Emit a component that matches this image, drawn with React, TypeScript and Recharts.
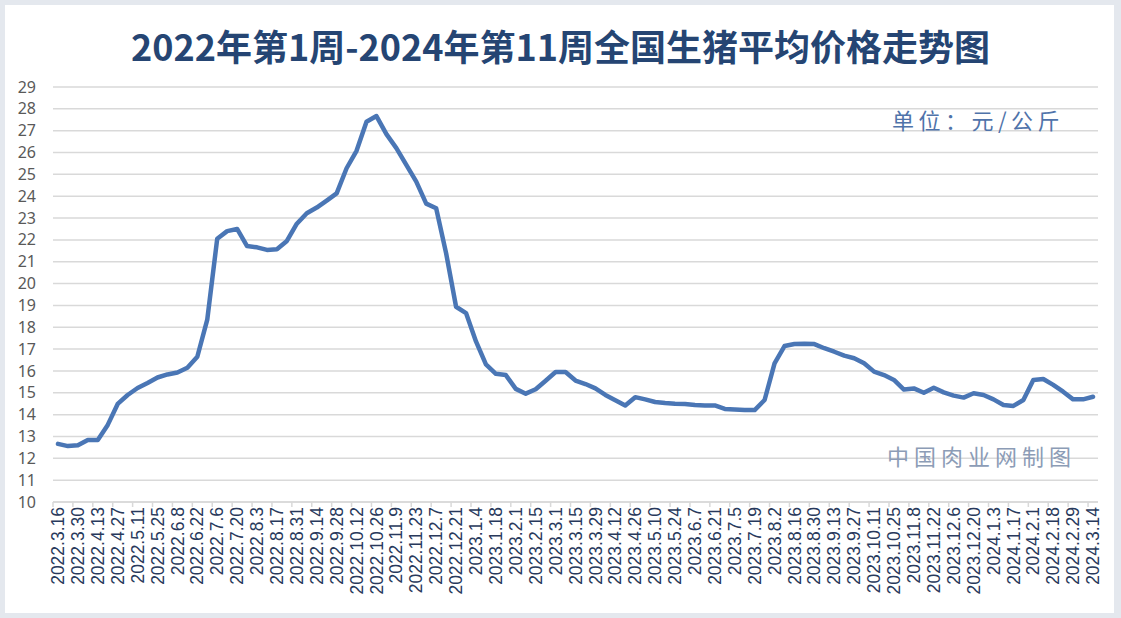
import { CartesianGrid, Line, LineChart, XAxis, YAxis } from "recharts";

// labels shown under every second week
const WEEK_LABELS = [
  "2022.3.16", "2022.3.30", "2022.4.13", "2022.4.27", "2022.5.11", "2022.5.25", "2022.6.8",
  "2022.6.22", "2022.7.6", "2022.7.20", "2022.8.3", "2022.8.17", "2022.8.31", "2022.9.14",
  "2022.9.28", "2022.10.12", "2022.10.26", "2022.11.9", "2022.11.23", "2022.12.7", "2022.12.21",
  "2023.1.4", "2023.1.18", "2023.2.1", "2023.2.15", "2023.3.1", "2023.3.15", "2023.3.29",
  "2023.4.12", "2023.4.26", "2023.5.10", "2023.5.24", "2023.6.7", "2023.6.21", "2023.7.5",
  "2023.7.19", "2023.8.2", "2023.8.16", "2023.8.30", "2023.9.13", "2023.9.27", "2023.10.11",
  "2023.10.25", "2023.11.8", "2023.11.22", "2023.12.6", "2023.12.20", "2024.1.3", "2024.1.17",
  "2024.2.1", "2024.2.18", "2024.2.29", "2024.3.14",
];

// weekly national live hog price, yuan/kg
const PRICES = [
  12.66, 12.56, 12.6, 12.84, 12.84, 13.53, 14.49, 14.9, 15.22, 15.45,
  15.7, 15.84, 15.93, 16.15, 16.65, 18.35, 22.05, 22.4, 22.5, 21.72,
  21.66, 21.54, 21.57, 21.95, 22.74, 23.22, 23.48, 23.8, 24.13, 25.28,
  26.08, 27.41, 27.67, 26.84, 26.2, 25.43, 24.67, 23.66, 23.45, 21.39,
  18.94, 18.65, 17.35, 16.3, 15.87, 15.81, 15.18, 14.96, 15.16, 15.55,
  15.95, 15.95, 15.56, 15.4, 15.2, 14.9, 14.66, 14.42, 14.8, 14.7,
  14.58, 14.53, 14.5, 14.49, 14.44, 14.42, 14.42, 14.26, 14.23, 14.21,
  14.21, 14.67, 16.35, 17.14, 17.23, 17.25, 17.23, 17.04, 16.88, 16.7,
  16.58, 16.35, 15.97, 15.81, 15.59, 15.15, 15.2, 15.0, 15.23, 15.02,
  14.87, 14.78, 14.98, 14.9, 14.7, 14.44, 14.4, 14.67, 15.59, 15.63,
  15.36, 15.05, 14.7, 14.7, 14.82,
];

const Y_TICKS = [10, 11, 12, 13, 14, 15, 16, 17, 18, 19, 20, 21, 22, 23, 24, 25, 26, 27, 28, 29];

const data = PRICES.map((price, i) => ({ i, price }));

const W = 1121;
const H = 618;
const PLOT_LEFT = 53;
const PLOT_RIGHT = 1098;
const BAND = (PLOT_RIGHT - PLOT_LEFT) / PRICES.length;

function XTick(props: any) {
  const { x, y, payload } = props;
  const idx = payload.value as number;
  const label = WEEK_LABELS[idx / 2] ?? "";
  return (
    <g>
      <line x1={x - BAND / 2} x2={x - BAND / 2} y1={y} y2={y + 5} stroke="#D9D9D9" strokeWidth={1.5} />
      <text
        x={x}
        y={y + 5}
        dy="0.35em"
        transform={`rotate(-90 ${x} ${y + 5})`}
        textAnchor="end"
        fontFamily="'Liberation Sans', Arial, sans-serif"
        fontSize={17.5}
        fill="#28395C"
      >
        {label}
      </text>
    </g>
  );
}

function YTick(props: any) {
  const { y, payload } = props;
  return (
    <text x={36} y={y} dy="0.35em" textAnchor="end" fontFamily="'Noto Sans', sans-serif" fontSize={16} fill="#595959">
      {payload.value}
    </text>
  );
}

export default function App() {
  return (
    <div style={{ position: "absolute", left: 0, top: 0, width: W, height: H, background: "#E4E8EE" }}>
      <div style={{ position: "absolute", left: 5, top: 5, right: 7, bottom: 5, background: "#fff" }} />
      <div
        style={{
          position: "absolute",
          left: 0,
          top: 19,
          width: W,
          height: 52,
          lineHeight: "52px",
          textAlign: "center",
          fontFamily: "'Noto Sans CJK SC', sans-serif",
          fontWeight: 700,
          fontSize: 36,
          color: "#254573",
        }}
      >
        2022年第1周-2024年第11周全国生猪平均价格走势图
      </div>
      <div style={{ position: "absolute", left: 0, top: 0 }}>
        <LineChart width={W} height={H} data={data} margin={{ top: 87, right: W - PLOT_RIGHT, bottom: 0, left: 0 }}>
          <CartesianGrid vertical={false} stroke="#D9D9D9" strokeWidth={1.5} />
          <XAxis
            dataKey="i"
            type="category"
            scale="band"
            interval={1}
            height={116}
            tickLine={false}
            tickSize={0}
            tickMargin={0}
            axisLine={{ stroke: "#D9D9D9", strokeWidth: 1.5 }}
            tick={<XTick />}
          />
          <YAxis
            type="number"
            domain={[10, 29]}
            ticks={Y_TICKS}
            interval={0}
            width={PLOT_LEFT}
            axisLine={false}
            tickLine={false}
            tick={<YTick />}
          />
          <Line
            dataKey="price"
            type="linear"
            stroke="#4A76B5"
            strokeWidth={4.5}
            strokeLinejoin="round"
            strokeLinecap="round"
            dot={false}
            isAnimationActive={false}
          />
        </LineChart>
      </div>
      <div
        style={{
          position: "absolute",
          left: 892,
          top: 103,
          fontFamily: "'Noto Sans CJK SC', sans-serif",
          fontSize: 22,
          letterSpacing: 4.5,
          color: "#4F73AA",
          whiteSpace: "nowrap",
        }}
      >
        单位：元/公斤
      </div>
      <div
        style={{
          position: "absolute",
          left: 887,
          top: 439,
          fontFamily: "'Noto Sans CJK SC', sans-serif",
          fontSize: 22,
          letterSpacing: 5,
          color: "#8C9CB6",
          whiteSpace: "nowrap",
        }}
      >
        中国肉业网制图
      </div>
    </div>
  );
}
